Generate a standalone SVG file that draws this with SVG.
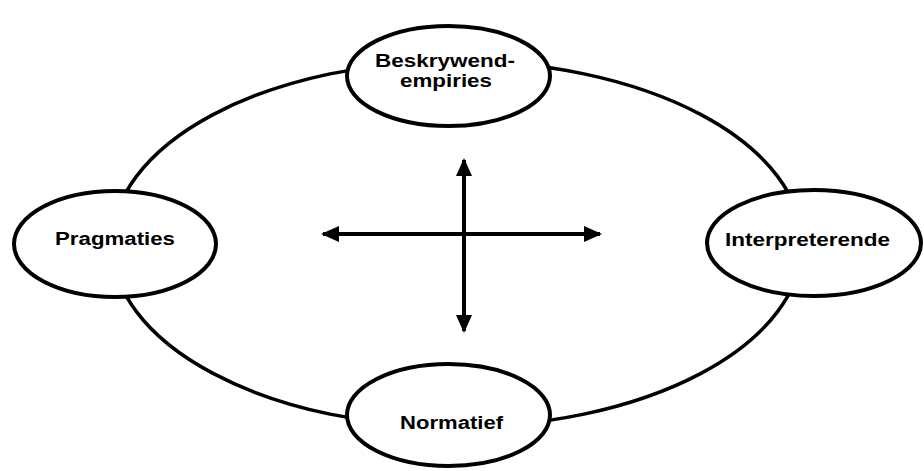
<svg xmlns="http://www.w3.org/2000/svg" width="924" height="471" viewBox="0 0 924 471">
<style>
.ring{fill:none;stroke:#000;stroke-width:3.5}
.node{fill:#fff;stroke:#000;stroke-width:4}
.lbl{font-family:"Liberation Sans",Arial,sans-serif;font-weight:bold;font-size:18px;fill:#000;text-anchor:middle}
.arr{stroke:#000;stroke-width:4;fill:none;marker-start:url(#ah);marker-end:url(#ah)}
</style>
<defs>
<marker id="ah" markerUnits="userSpaceOnUse" markerWidth="18" markerHeight="18" viewBox="0 0 18 18" refX="16" refY="9" orient="auto-start-reverse">
<path d="M0,1 L18,9 L0,17 Z" fill="#000"/>
</marker>
</defs>
<ellipse class="ring" cx="457" cy="244" rx="345" ry="183"/>
<g id="connectors">
<line class="arr" x1="323" y1="234" x2="600" y2="234"/>
<line class="arr" x1="464" y1="160" x2="464" y2="331"/>
</g>
<g id="beskrywend">
<ellipse class="node" cx="448.5" cy="76" rx="101.5" ry="50"/>
<text class="lbl" x="445" y="67" textLength="140" lengthAdjust="spacingAndGlyphs">Beskrywend-</text>
<text class="lbl" x="446" y="87" textLength="92" lengthAdjust="spacingAndGlyphs">empiries</text>
</g>
<g id="pragmaties">
<ellipse class="node" cx="115" cy="244" rx="101" ry="53"/>
<text class="lbl" x="115" y="245" textLength="120" lengthAdjust="spacingAndGlyphs">Pragmaties</text>
</g>
<g id="interpreterende">
<ellipse class="node" cx="814" cy="243" rx="107" ry="53"/>
<text class="lbl" x="807.5" y="245.5" textLength="165" lengthAdjust="spacingAndGlyphs">Interpreterende</text>
</g>
<g id="normatief">
<ellipse class="node" cx="448.5" cy="415" rx="101.5" ry="51"/>
<text class="lbl" x="451.5" y="429" textLength="103" lengthAdjust="spacingAndGlyphs">Normatief</text>
</g>
</svg>
